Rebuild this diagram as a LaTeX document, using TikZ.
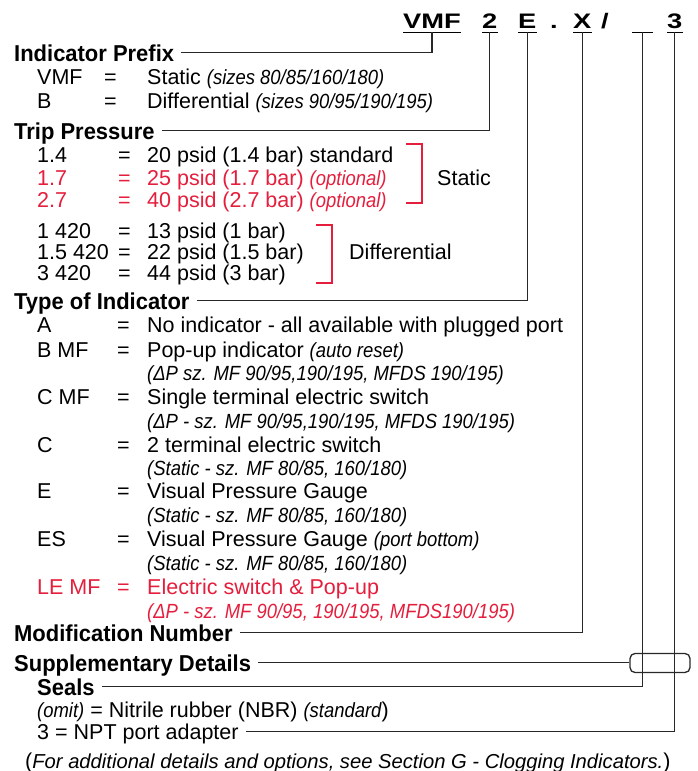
\documentclass[tikz,border=0pt]{standalone}
\usepackage{fontspec}
\setmainfont{Liberation Sans}
\newfontfamily\hdfont{Liberation Sans}[FakeStretch=0.955]
\newfontfamily\notefont{Liberation Sans}[FakeStretch=0.9]
\newfontfamily\codefont{Liberation Sans}[FakeStretch=1.3]
\usetikzlibrary{positioning,calc}
\definecolor{ciRed}{RGB}{228,30,60}
\definecolor{ciLine}{RGB}{40,40,40}
\newcommand{\nt}[1]{{\notefont\itshape\fontsize{20.5}{23}\selectfont #1}}

\begin{document}
\begin{tikzpicture}[x=1pt,y=-1pt,
  txt/.style={anchor=base west,inner sep=0pt,text height=15.5pt,text depth=0pt,font=\fontsize{21.5}{24}\selectfont},
  hd/.style={anchor=base west,inner sep=0pt,text height=16.5pt,text depth=0pt,font=\hdfont\bfseries\fontsize{23}{26}\selectfont},
  note/.style={anchor=base west,inner sep=0pt,font=\notefont\itshape\fontsize{20.5}{23}\selectfont},
  code/.style={anchor=base west,inner sep=0pt,text depth=4pt,font=\codefont\bfseries\fontsize{21}{24}\selectfont},
  lead/.style={draw=ciLine,line width=1.3pt},
  brk/.style={draw=ciRed,line width=1.2pt}]
    \useasboundingbox (0,0) rectangle (698,771);
    % Code line
    \node[code] (cPre) at (403,28) {VMF};
    \node[code] (cTrip) at (482,28) {2};
    \node[code] (cInd) at (518,28) {E};
    \node[code] (cDot) at (550,28) {.};
    \node[code] (cMod) at (573,28) {X};
    \node[code] (cSlash) at (601,28) {/};
    \node[code,minimum width=21pt] (cSeal) at (632,28) {};
    \node[code] (cSup) at (667,28) {3};
    \foreach \n in {cPre,cTrip,cInd,cMod,cSeal,cSup}
      \draw[line width=1.2pt] (\n.south west) -- (\n.south east);
    % Headers
    \node[hd] (hPre) at (14,61) {Indicator Prefix};
    \node[hd] (hTrip) at (14,139) {Trip Pressure};
    \node[hd] (hInd) at (14,309) {Type of Indicator};
    \node[hd] (hMod) at (14,641) {Modification Number};
    \node[hd] (hSup) at (14,671) {Supplementary Details};
    \node[hd] (hSeal) at (37,695) {Seals};
    % Indicator prefix
    \foreach \y/\c/\d [count=\i] in {84/VMF/{Static \nt{(sizes 80/85/160/180)}},
        108/B/{Differential \nt{(sizes 90/95/190/195)}}} {
      \node[txt] (pc\i) at (37,\y) {\c};
      \node[txt] (pe\i) at (104,\y) {=};
      \node[txt] (pd\i) at (147,\y) {\d};
    }
    % Trip pressure
    \foreach \y/\c/\d/\col [count=\i] in {162/1.4/{20 psid (1.4 bar) standard}/black,
        185/1.7/{25 psid (1.7 bar) \nt{(optional)}}/ciRed,
        207/2.7/{40 psid (2.7 bar) \nt{(optional)}}/ciRed,
        238/1 420/{13 psid (1 bar)}/black,
        259/1.5 420/{22 psid (1.5 bar)}/black,
        280/3 420/{44 psid (3 bar)}/black} {
      \node[txt,text=\col] (tc\i) at (37,\y) {\c};
      \node[txt,text=\col] (te\i) at (118,\y) {=};
      \node[txt,text=\col] (td\i) at (147,\y) {\d};
    }
    \node[txt] (stat) at (437,185) {Static};
    \node[txt] (diff) at (349,259) {Differential};
    \draw[brk] (406,144) -| (422,203) -- (406,203);
    \draw[brk] (316,225) -| (332,283) -- (316,283);
    % Type of indicator
    \foreach \y/\c/\d/\col [count=\i] in {332/A/{No indicator - all available with plugged port}/black,
        357/B MF/{Pop-up indicator \nt{(auto reset)}}/black,
        404/C MF/{Single terminal electric switch}/black,
        452/C/{2 terminal electric switch}/black,
        498/E/{Visual Pressure Gauge}/black,
        546/ES/{Visual Pressure Gauge \nt{(port bottom)}}/black,
        594/LE MF/{Electric switch \& Pop-up}/ciRed} {
      \node[txt,text=\col] (ic\i) at (37,\y) {\c};
      \node[txt,text=\col] (ie\i) at (117,\y) {=};
      \node[txt,text=\col] (id\i) at (147,\y) {\d};
    }
    \foreach \y/\d/\col [count=\i] in {380/{(ΔP sz. MF 90/95,190/195, MFDS 190/195)}/black,
        428/{(ΔP - sz. MF 90/95,190/195, MFDS 190/195)}/black,
        475/{(Static - sz. MF 80/85, 160/180)}/black,
        522/{(Static - sz. MF 80/85, 160/180)}/black,
        570/{(Static - sz. MF 80/85, 160/180)}/black,
        618/{(ΔP - sz. MF 90/95, 190/195, MFDS190/195)}/ciRed}
      \node[note,text=\col] (is\i) at (147,\y) {\d};
    % Supplementary details
    \node[txt] (nbr) at (37,717) {\nt{(omit)} = Nitrile rubber (NBR) \nt{(standard})};
    \node[txt] (npt) at (37,739) {3 = NPT port adapter};
    \node[draw=ciLine,line width=1.3pt,rounded corners=5pt,minimum width=60pt,minimum height=19pt] (supbox) at (660,663) {};
    % Leaders
    \draw[lead] (cPre.south) |- ([xshift=7pt]hPre.east);
    \draw[lead] (cTrip.south) |- ([xshift=7pt]hTrip.east);
    \draw[lead] (cInd.south) |- ([xshift=7pt]hInd.east);
    \draw[lead] (cMod.south) |- ([xshift=7pt]hMod.east);
    \draw[lead] (cSeal.south) |- ([xshift=7pt]hSeal.east);
    \draw[lead] (cSup.south) |- ([xshift=7pt]npt.east);
    \draw[lead] ([xshift=7pt]hSup.east) -- (hSup.east -| supbox.west);
    % Footnote
    \node[txt] (foot) at (25,768) {({\itshape\fontsize{20.2}{23}\selectfont For additional details and options, see Section G - Clogging Indicators.})};
\end{tikzpicture}
\end{document}
